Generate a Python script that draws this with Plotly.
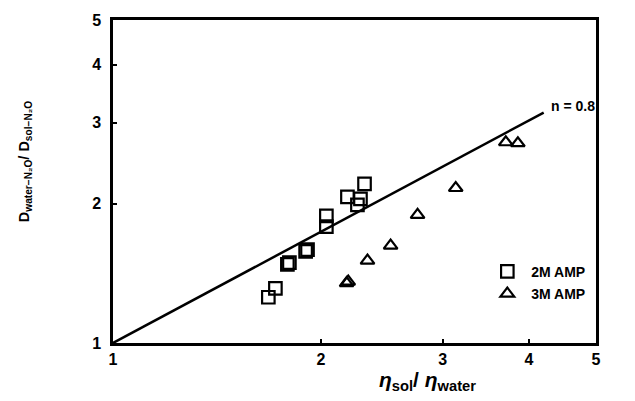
import numpy as np
import plotly.graph_objects as go

# Viscosity ratio (x) and diffusivity ratio (y) for the two AMP concentrations
amp2_visc = [1.678, 1.718, 1.788, 1.800, 1.900, 1.912, 2.036, 2.036, 2.184, 2.281, 2.258, 2.312]
amp2_diff = [1.256, 1.313, 1.480, 1.492, 1.578, 1.592, 1.885, 1.785, 2.071, 2.050, 1.990, 2.209]

amp3_visc = [2.178, 2.190, 2.335, 2.522, 2.759, 3.133, 3.702, 3.854]
amp3_diff = [1.348, 1.358, 1.508, 1.625, 1.894, 2.165, 2.719, 2.706]

# Power-law line D_w/D_s = (eta_s/eta_w)^n
n_exp = 0.8
line_x = np.array([1.0, 4.2])
line_y = line_x ** n_exp

tick_vals = [1, 2, 3, 4, 5]
tick_text = ["1", "2", "3", "4", "5"]

FONT = "Liberation Sans"

fig = go.Figure()

fig.add_trace(go.Scatter(
    x=line_x, y=line_y, mode="lines",
    line=dict(color="black", width=2.5),
    showlegend=False, hoverinfo="skip",
))

fig.add_trace(go.Scatter(
    x=amp2_visc, y=amp2_diff, mode="markers", name="\u00a02M AMP",
    legendgroup="a",
    marker=dict(symbol="square-open", size=12.5, color="black",
                line=dict(width=2.2, color="black")),
))

fig.add_trace(go.Scatter(
    x=amp3_visc, y=amp3_diff, mode="markers", name="\u00a03M AMP",
    legendgroup="b",
    marker=dict(symbol="triangle-up-open", size=12, color="black",
                line=dict(width=2.2, color="black")),
))

axis_common = dict(
    type="log",
    range=[0, np.log10(5)],
    tickvals=tick_vals,
    ticktext=tick_text,
    ticks="inside",
    ticklen=4,
    tickwidth=1.5,
    tickcolor="black",
    showline=True,
    linecolor="black",
    linewidth=2.5,
    mirror=True,
    showgrid=False,
    zeroline=False,
    tickfont=dict(family=FONT, size=16, color="black", weight="bold"),
)

fig.update_xaxes(**axis_common)
fig.update_yaxes(**axis_common, ticklabelstandoff=6)

fig.add_annotation(
    x=np.log10(4.27), y=np.log10(3.26), xref="x", yref="y",
    text="n = 0.8", showarrow=False, xanchor="left", yanchor="middle",
    font=dict(family=FONT, size=14, color="black", weight="bold"),
)

fig.add_annotation(
    x=0.652, y=-0.118, xref="paper", yref="paper",
    text="<i>η</i><sub>sol</sub>/ <i>η</i><sub>water</sub>",
    showarrow=False, xanchor="center", yanchor="middle",
    font=dict(family=FONT, size=21, color="black", weight="bold"),
)

fig.add_annotation(
    x=-0.182, y=0.56, xref="paper", yref="paper",
    text="D<sub>water−N₂O</sub>/ D<sub>sol−N₂O</sub>",
    textangle=-90, showarrow=False, xanchor="center", yanchor="middle",
    font=dict(family=FONT, size=14.5, color="black", weight="bold"),
)

fig.update_layout(
    width=635, height=401,
    margin=dict(l=113, r=39, t=18, b=58),
    paper_bgcolor="white",
    plot_bgcolor="white",
    legend=dict(
        x=0.775, y=0.27, xanchor="left", yanchor="top",
        bgcolor="rgba(0,0,0,0)",
        font=dict(family=FONT, size=14, color="black", weight="bold"),
        traceorder="grouped",
        tracegroupgap=1,
    ),
)

fig.write_html("out.html")
